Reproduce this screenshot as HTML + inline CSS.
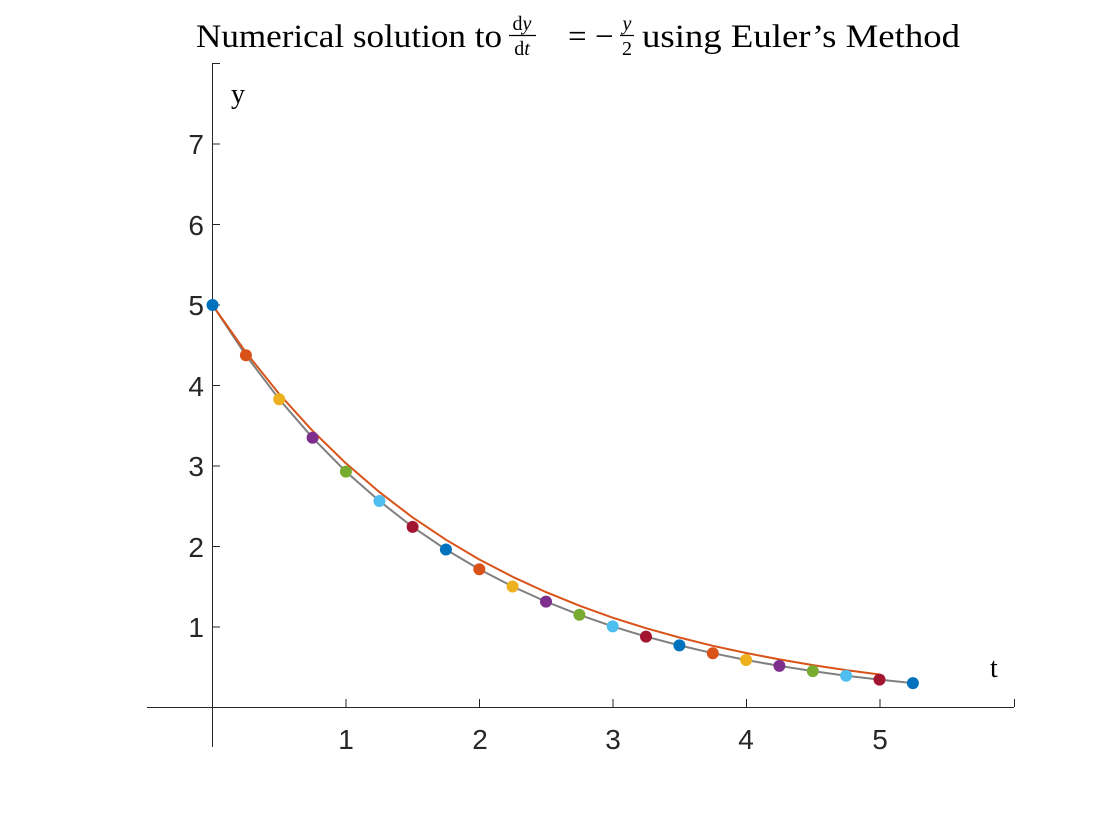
<!DOCTYPE html>
<html><head><meta charset="utf-8"><style>
html,body{margin:0;padding:0;background:#fff;}
svg{display:block;}
</style></head><body>
<svg width="1120" height="840" viewBox="0 0 1120 840" xmlns="http://www.w3.org/2000/svg">
<rect width="1120" height="840" fill="#fff"/>
<g font-family="Liberation Serif, serif" fill="#000">
<text x="196" y="47" font-size="33" textLength="306" lengthAdjust="spacingAndGlyphs">Numerical solution to</text>
<text x="522" y="30" font-size="20" text-anchor="middle">d<tspan font-style="italic">y</tspan></text>
<line x1="509" y1="35.5" x2="536" y2="35.5" stroke="#000" stroke-width="1.2"/>
<text x="522" y="55" font-size="20" text-anchor="middle">d<tspan font-style="italic">t</tspan></text>
<text x="568" y="47" font-size="33">=</text>
<text x="595" y="47" font-size="33">−</text>
<text x="627" y="30" font-size="20" text-anchor="middle" font-style="italic">y</text>
<line x1="620" y1="35.5" x2="634" y2="35.5" stroke="#000" stroke-width="1.2"/>
<text x="627" y="55" font-size="20" text-anchor="middle">2</text>
<text x="642" y="47" font-size="33" textLength="318" lengthAdjust="spacingAndGlyphs">using Euler’s Method</text>
<text x="231" y="103" font-size="28">y</text>
<text x="990" y="677" font-size="28">t</text>
</g>
<g stroke="#262626" stroke-width="1" fill="none">
<line x1="147" y1="707.5" x2="1014" y2="707.5"/>
<line x1="212.5" y1="63" x2="212.5" y2="747"/>
<line x1="212.5" y1="63.5" x2="220" y2="63.5"/>
<line x1="1014.5" y1="707" x2="1014.5" y2="699"/>
<line x1="346" y1="707" x2="346" y2="699"/>
<line x1="479.5" y1="707" x2="479.5" y2="699"/>
<line x1="613" y1="707" x2="613" y2="699"/>
<line x1="746.5" y1="707" x2="746.5" y2="699"/>
<line x1="880" y1="707" x2="880" y2="699"/>
<line x1="212" y1="627" x2="220" y2="627"/>
<line x1="212" y1="546.5" x2="220" y2="546.5"/>
<line x1="212" y1="466" x2="220" y2="466"/>
<line x1="212" y1="385.5" x2="220" y2="385.5"/>
<line x1="212" y1="305" x2="220" y2="305"/>
<line x1="212" y1="224.5" x2="220" y2="224.5"/>
<line x1="212" y1="144" x2="220" y2="144"/>
</g>
<g font-family="Liberation Sans, sans-serif" font-size="28" fill="#262626" text-anchor="middle">
<text x="346" y="749">1</text><text x="480" y="749">2</text><text x="613" y="749">3</text><text x="746" y="749">4</text><text x="880" y="749">5</text>
</g>
<g font-family="Liberation Sans, sans-serif" font-size="28" fill="#262626" text-anchor="end">
<text x="204" y="637">1</text><text x="204" y="557">2</text><text x="204" y="476">3</text><text x="204" y="396">4</text><text x="204" y="315">5</text><text x="204" y="235">6</text><text x="204" y="154">7</text>
</g>
<polyline fill="none" stroke="#808080" stroke-width="2" points="212.5,305 245.9,355.3 279.2,399.3 312.6,437.8 345.9,471.6 379.4,501 412.6,526.9 445.9,549.5 479.3,569.2 512.6,586.5 546,601.6 579.4,614.8 612.7,626.4 646,636.6 679.4,645.4 712.8,653.2 746.1,660 779.4,665.9 812.8,671.1 846.1,675.7 879.5,679.6 912.9,683.1"/>
<polyline fill="none" stroke="#D95319" stroke-width="2" stroke-linejoin="round" points="212.5,305 245.9,352.3 279.2,394 312.6,430.9 345.9,463.3 379.4,492.1 412.6,517.4 445.9,539.7 479.3,559.5 512.6,576.8 546,592.1 579.4,605.7 612.7,617.7 646,628.2 679.4,637.5 712.8,645.8 746.1,653 779.4,659.4 812.8,665.1 846.1,670.1 879.5,674.5"/>
<g>
<circle cx="212.5" cy="305" r="6" fill="#0072BD"/>
<circle cx="245.9" cy="355.3" r="6" fill="#D95319"/>
<circle cx="279.2" cy="399.3" r="6" fill="#EDB120"/>
<circle cx="312.6" cy="437.8" r="6" fill="#7E2F8E"/>
<circle cx="345.9" cy="471.6" r="6" fill="#77AC30"/>
<circle cx="379.4" cy="501" r="6" fill="#4DBEEE"/>
<circle cx="412.6" cy="526.9" r="6" fill="#A2142F"/>
<circle cx="445.9" cy="549.5" r="6" fill="#0072BD"/>
<circle cx="479.3" cy="569.2" r="6" fill="#D95319"/>
<circle cx="512.6" cy="586.5" r="6" fill="#EDB120"/>
<circle cx="546" cy="601.6" r="6" fill="#7E2F8E"/>
<circle cx="579.4" cy="614.8" r="6" fill="#77AC30"/>
<circle cx="612.7" cy="626.4" r="6" fill="#4DBEEE"/>
<circle cx="646" cy="636.6" r="6" fill="#A2142F"/>
<circle cx="679.4" cy="645.4" r="6" fill="#0072BD"/>
<circle cx="712.8" cy="653.2" r="6" fill="#D95319"/>
<circle cx="746.1" cy="660" r="6" fill="#EDB120"/>
<circle cx="779.4" cy="665.9" r="6" fill="#7E2F8E"/>
<circle cx="812.8" cy="671.1" r="6" fill="#77AC30"/>
<circle cx="846.1" cy="675.7" r="6" fill="#4DBEEE"/>
<circle cx="879.5" cy="679.6" r="6" fill="#A2142F"/>
<circle cx="912.9" cy="683.1" r="6" fill="#0072BD"/>
</g>
</svg>
</body></html>
